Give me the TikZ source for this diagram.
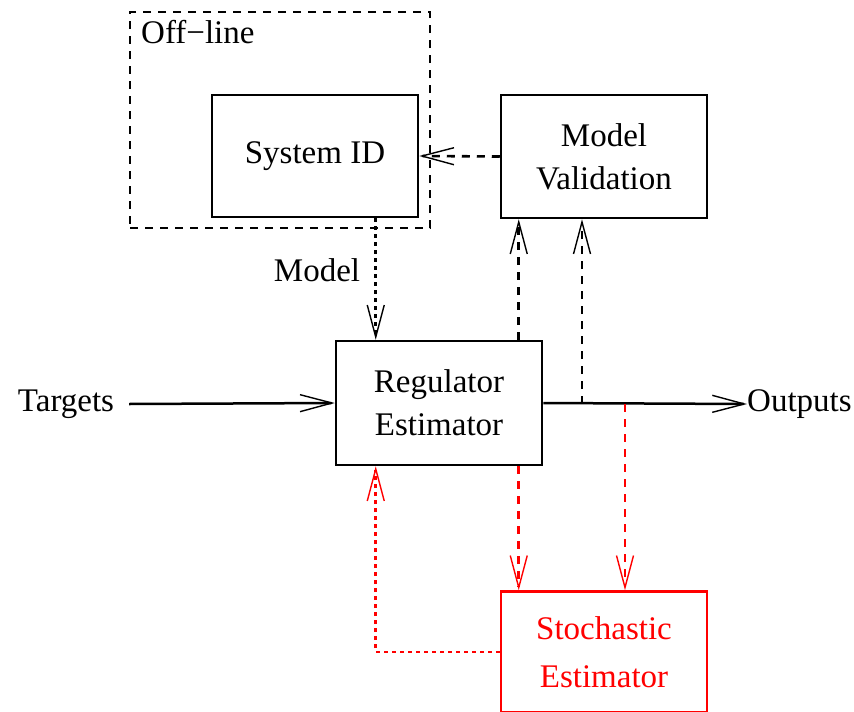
\documentclass[tikz,border=0pt]{standalone}
\usepackage{fontspec}
\setmainfont{Liberation Serif}
\usetikzlibrary{arrows.meta}
\begin{document}
\begin{tikzpicture}[x=1pt,y=-1pt,
  lbl/.style={font=\fontsize{33}{43}\selectfont, align=center, inner sep=0pt},
  box/.style={draw, line width=2.5pt, lbl},
  vtip/.style={-{Straight Barb[length=32pt,width=17pt,line width=1.4pt]}},
  solidarr/.style={line width=2.5pt, vtip},
  dasharr/.style={line width=2.6pt, dash pattern=on 8pt off 7pt, vtip},
  dotarr/.style={line width=2.6pt, dash pattern=on 4pt off 4pt, vtip},
  redc/.style={color=red}
]
\useasboundingbox (0,0) rectangle (854,712);
% off-line box
\node[draw, line width=2.5pt, dash pattern=on 8pt off 7pt, minimum width=300pt, minimum height=216pt, inner sep=0pt] (offline) at (280,120) {};
\node[lbl, anchor=north west] (offlbl) at (141,20) {Off−line};
% boxes
\node[box, minimum width=206pt, minimum height=122pt] (sysid) at (315,156) {System ID};
\node[box, minimum width=206pt, minimum height=123pt] (mv) at (604,156.5) {Model\\Validation};
\node[box, minimum width=206pt, minimum height=124pt] (reg) at (439,403) {Regulator\\Estimator};
\node[box, redc, minimum width=206pt, minimum height=121pt, font=\fontsize{33}{48}\selectfont] (se) at (604,652) {Stochastic\\Estimator};
% side labels
\node[lbl] (targets) at (66,404) {Targets};
\node[lbl, anchor=west] (outputs) at (747,404) {Outputs};
\node[lbl] (modellbl) at (317,270) {Model};
% junctions
\coordinate (o1) at (582,404);
\coordinate (o2) at (625,404);
% connectors
\draw[solidarr] ([xshift=15pt]targets.east) -- (reg.west);
\draw[solidarr] (reg.east) -- (outputs.west);
\draw[dotarr] ([xshift=165pt]sysid.south west) -- ([xshift=41pt]reg.north west);
\draw[dasharr] (mv.west) -- (sysid.east);
\draw[dasharr] ([xshift=184pt]reg.north west) -- ([xshift=19pt]mv.south west);
\draw[dasharr] (o1) -- (o1 |- mv.south);
\draw[dasharr, redc] ([xshift=184pt]reg.south west) -- ([xshift=19pt]se.north west);
\draw[dasharr, redc] (o2) -- (o2 |- se.north);
\draw[dotarr, redc] (se.west) -| ([xshift=41pt]reg.south west);
\end{tikzpicture}
\end{document}
